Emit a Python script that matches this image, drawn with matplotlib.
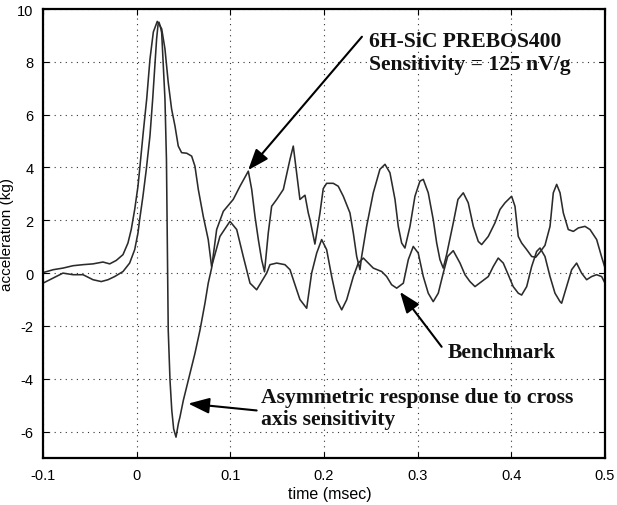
import matplotlib
matplotlib.use("Agg")
import matplotlib.pyplot as plt

# ---- data (time in msec, acceleration in kg) ----
prebos_t = [-0.1, -0.0894, -0.0787, -0.068, -0.0573, -0.0466, -0.0378, -0.0306, -0.0235, -0.0146,
            -0.0075, -0.0021, 0.0014, 0.0032, 0.0067, 0.0103, 0.0142, 0.0171, 0.0195, 0.0213,
            0.0228, 0.0238, 0.0252, 0.0267, 0.0284, 0.0302, 0.0318, 0.0328, 0.0337, 0.0356,
            0.0375, 0.0395, 0.042, 0.0445, 0.0462, 0.0498, 0.0551, 0.0622, 0.0676, 0.0729,
            0.0764, 0.08, 0.0854, 0.0925, 0.1031, 0.1103, 0.1192, 0.1228, 0.1263, 0.1299,
            0.1334, 0.1365, 0.1405, 0.1441, 0.1495, 0.1566, 0.1637, 0.1672, 0.1708, 0.1743,
            0.1797, 0.1832, 0.185, 0.1903, 0.1957, 0.1992, 0.2028, 0.2099, 0.2152, 0.2206,
            0.2277, 0.2313, 0.2349, 0.2384, 0.2402, 0.2455, 0.2526, 0.2597, 0.2651, 0.2704,
            0.2758, 0.2793, 0.2829, 0.2864, 0.2918, 0.2971, 0.3024, 0.306, 0.3113, 0.3166,
            0.3203, 0.3238, 0.3273, 0.3309, 0.3345, 0.338, 0.343, 0.3487, 0.354, 0.3594,
            0.3647, 0.3683, 0.3754, 0.3825, 0.3879, 0.3932, 0.4003, 0.4039, 0.4074, 0.411,
            0.4164, 0.4217, 0.426, 0.4306, 0.4359, 0.4413, 0.4448, 0.4484, 0.452, 0.4555,
            0.4608, 0.4662, 0.4715, 0.4786, 0.484, 0.4911, 0.4965, 0.5]
prebos_v = [-0.38, -0.19, 0.0, -0.06, -0.06, -0.25, -0.32, -0.25, -0.13, 0.06,
            0.38, 0.89, 1.52, 2.03, 2.91, 3.93, 5.2, 6.59, 7.86, 8.87,
            9.4, 9.5, 9.35, 9.1, 7.86, 6.59, 4.3, 1.0, -2.16, -4.06,
            -5.2, -5.9, -6.21, -5.7, -5.45, -4.82, -4.06, -3.04, -2.16, -1.14,
            -0.38, 0.19, 1.65, 2.34, 2.79, 3.29, 3.86, 3.17, 2.15, 1.27,
            0.51, 0.05, 1.52, 2.53, 2.79, 3.17, 4.31, 4.81, 3.8, 2.79,
            2.95, 2.28, 2.03, 1.1, 2.28, 3.2, 3.4, 3.4, 3.29, 2.91,
            2.28, 1.52, 0.63, 0.13, 0.63, 1.77, 3.04, 3.93, 4.12, 3.8,
            2.79, 1.77, 1.14, 0.95, 1.77, 2.91, 3.48, 3.55, 3.04, 2.03,
            1.14, 0.51, 0.19, 0.7, 1.3, 1.9, 2.79, 3.04, 2.66, 1.77,
            1.2, 1.08, 1.39, 1.9, 2.41, 2.66, 2.91, 2.53, 1.39, 1.14,
            0.89, 0.63, 0.6, 0.8, 1.05, 1.77, 3.04, 3.36, 3.04, 2.28,
            1.65, 1.58, 1.71, 1.77, 1.65, 1.27, 0.6, 0.2]

bench_t = [-0.1, -0.089, -0.0787, -0.068, -0.0573, -0.0466, -0.036, -0.0288, -0.0218, -0.0146,
           -0.0093, -0.0058, -0.0021, 0.0014, 0.0032, 0.007, 0.0107, 0.0142, 0.0178, 0.022,
           0.0267, 0.0302, 0.0337, 0.0373, 0.0409, 0.0444, 0.048, 0.0534, 0.0587, 0.0622,
           0.0658, 0.0711, 0.0764, 0.08, 0.0889, 0.0996, 0.1068, 0.1138, 0.121, 0.1281,
           0.1388, 0.1423, 0.1495, 0.1583, 0.1637, 0.1708, 0.1743, 0.1815, 0.1868, 0.1922,
           0.1975, 0.2028, 0.2082, 0.2135, 0.2189, 0.2242, 0.2313, 0.2366, 0.242, 0.2473,
           0.2526, 0.2616, 0.2669, 0.2722, 0.2776, 0.2847, 0.29, 0.2953, 0.3006, 0.306,
           0.3113, 0.3166, 0.322, 0.3273, 0.332, 0.338, 0.3452, 0.3505, 0.3558, 0.3612,
           0.3683, 0.3754, 0.3807, 0.386, 0.3914, 0.3967, 0.402, 0.4074, 0.411, 0.4164,
           0.4217, 0.427, 0.4306, 0.4359, 0.4413, 0.4466, 0.452, 0.4537, 0.459, 0.4644,
           0.4697, 0.475, 0.4804, 0.4857, 0.491, 0.4964, 0.5]
bench_v = [0.02, 0.13, 0.19, 0.28, 0.32, 0.35, 0.42, 0.35, 0.48, 0.70,
           1.14, 1.65, 2.41, 3.29, 3.93, 5.32, 6.59, 8.1, 9.13, 9.53,
           9.25, 8.49, 7.22, 6.21, 5.57, 4.81, 4.56, 4.54, 4.43, 4.05,
           3.17, 2.15, 1.27, 0.25, 1.39, 1.96, 1.65, 0.63, -0.38, -0.63,
           0.0, 0.32, 0.38, 0.32, 0.13, -0.63, -1.0, -1.33, 0.0, 0.76,
           1.27, 0.89, -0.13, -1.01, -1.39, -1.01, -0.13, 0.38, 0.57, 0.38,
           0.19, 0.06, -0.13, -0.44, -0.57, -0.38, 0.51, 1.01, 0.76, -0.13,
           -0.76, -1.08, -0.76, 0.0, 0.63, 0.85, 0.38, -0.06, -0.32, -0.51,
           -0.32, -0.13, 0.25, 0.57, 0.38, -0.06, -0.51, -0.76, -0.83, -0.51,
           0.25, 0.82, 0.95, 0.63, -0.13, -0.76, -1.08, -1.14, -0.51, 0.13,
           0.38, 0.0, -0.25, -0.13, -0.06, -0.13, -0.38]

xticks = [-0.1, 0, 0.1, 0.2, 0.3, 0.4, 0.5]
xticklabels = ["-0.1", "0", "0.1", "0.2", "0.3", "0.4", "0.5"]
yticks = [-6, -4, -2, 0, 2, 4, 6, 8, 10]
yticklabels = ["-6", "-4", "-2", "0", "2", "4", "6", "8", "10"]

label_prebos = "6H-SiC PREBOS400\nSensitivity = 125 nV/g"
label_bench = "Benchmark"
label_asym = "Asymmetric response due to cross\naxis sensitivity"

# ---- figure ----
fig = plt.figure(figsize=(6.17, 5.06), dpi=100)
ax = fig.add_axes([43 / 617, 1 - 459 / 506, 562 / 617, 449 / 506])

line_color = "#2b2b2b"
ax.plot(bench_t, bench_v, color=line_color, lw=1.15)
ax.plot(prebos_t, prebos_v, color=line_color, lw=1.15)

ax.set_xlim(-0.1, 0.5)
ax.set_ylim(-7, 10)
ax.set_xticks(xticks)
ax.set_xticklabels(xticklabels)
ax.set_yticks(yticks)
ax.set_yticklabels(yticklabels)

ax.grid(True, color="#333333", linestyle=(0, (1, 4)), linewidth=0.8)
ax.tick_params(direction="in", top=True, right=True, length=4, width=0.8,
               labelsize=10.5, pad=7)
for lab in ax.get_xticklabels() + ax.get_yticklabels():
    lab.set_family("Liberation Sans")
for s in ax.spines.values():
    s.set_linewidth(1.6)

ax.set_xlabel("time (msec)", family="Liberation Sans", fontsize=11.5)
ax.set_ylabel("acceleration (kg)", family="Liberation Sans", fontsize=11)
ax.xaxis.set_label_coords(0.511, -0.062)
ax.yaxis.set_label_coords(-0.051, 0.5)

arrow = dict(arrowstyle="-|>,head_length=0.8,head_width=0.3", mutation_scale=16,
             color="black", lw=1.5, shrinkA=0, shrinkB=0)
afont = dict(family="Liberation Serif", fontweight="bold", fontsize=15.6, color="#111111")

ax.annotate("", xy=(0.119, 3.9), xytext=(0.2405, 8.95), arrowprops=arrow)
ax.text(0.248, 8.34, label_prebos, ha="left", va="center", linespacing=1.2, **afont)

ax.annotate("", xy=(0.2811, -0.71), xytext=(0.3256, -2.79), arrowprops=arrow)
ax.text(0.3323, -2.99, label_bench, ha="left", va="center", **afont)

ax.annotate("", xy=(0.0551, -4.94), xytext=(0.1281, -5.2), arrowprops=arrow)
ax.text(0.1327, -5.1, label_asym, ha="left", va="center", linespacing=1.15, **afont)

fig.savefig("out.png", dpi=100)
